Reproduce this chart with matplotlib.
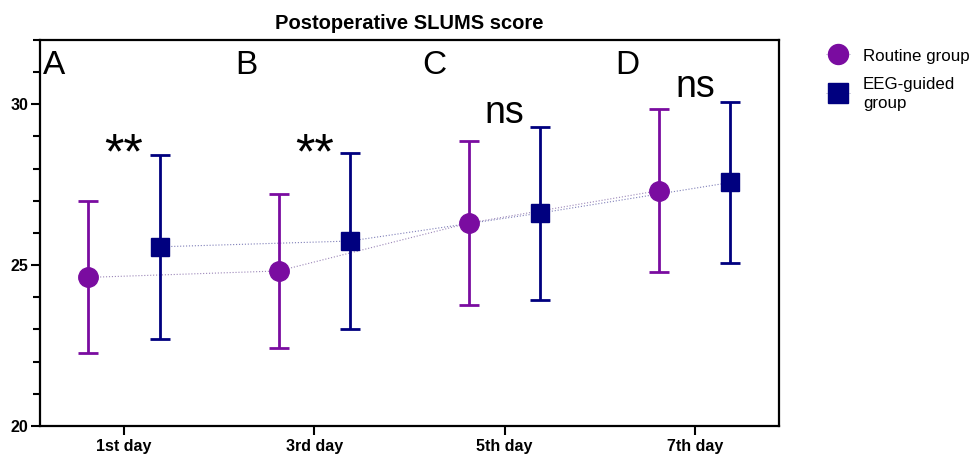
import matplotlib.pyplot as plt
import numpy as np
from matplotlib.lines import Line2D
from matplotlib.ticker import MultipleLocator

plt.rcParams['font.family'] = ['Liberation Sans', 'DejaVu Sans']

# data
days = ['1st day', '3rd day', '5th day', '7th day']
routine_mean = [24.62, 24.82, 26.31, 27.32]
routine_sd = [2.36, 2.40, 2.56, 2.52]
eeg_mean = [25.57, 25.75, 26.62, 27.57]
eeg_sd = [2.85, 2.74, 2.69, 2.51]
panel_letters = ['A', 'B', 'C', 'D']
signif = ['**', '**', 'ns', 'ns']

purple = '#7A0CA0'
navy = '#00007F'

day_pos = np.arange(len(days))
off = 0.187

fig = plt.figure(figsize=(9.72, 4.55), dpi=100)
ax = fig.add_axes([0.04115, 0.06374, 0.76029, 0.84835])

xr = day_pos - off
xe = day_pos + off

# thin dotted connectors
ax.plot(xr, routine_mean, ls=':', lw=0.8, color='#9b86b8', zorder=1)
ax.plot(xe, eeg_mean, ls=':', lw=0.8, color='#7f7fb8', zorder=1)

ax.errorbar(xr, routine_mean, yerr=routine_sd, fmt='o', color=purple,
            ms=14, elinewidth=2.0, capsize=7, capthick=2.0, zorder=3)
ax.errorbar(xe, eeg_mean, yerr=eeg_sd, fmt='s', color=navy,
            ms=13.5, elinewidth=2.0, capsize=7, capthick=2.0, zorder=3)

# panel letters
letter_x = [-0.426, 0.583, 1.569, 2.580]
for lx, t in zip(letter_x, panel_letters):
    ax.text(lx, 30.93, t, fontsize=24, ha='left', va='baseline')

# significance marks
sig_y = [28.01, 28.01, 29.41, 30.22]
sig_fs = [36, 36, 27, 27]
for p, s, sy, fs in zip(day_pos, signif, sig_y, sig_fs):
    ax.text(p, sy, s, fontsize=fs, ha='center', va='baseline')

ax.set_xlim(-0.441, 3.442)
ax.set_ylim(20, 32)
ax.set_xticks(day_pos)
ax.set_xticklabels(days, fontweight='bold', fontsize=11.5)
ax.set_yticks([20, 25, 30])
ax.set_yticklabels(['20', '25', '30'], fontweight='bold', fontsize=11.5)
ax.yaxis.set_minor_locator(MultipleLocator(1))
ax.tick_params(axis='both', which='major', length=6.3, width=1.5, pad=2)
ax.tick_params(axis='x', which='major', pad=3)
ax.tick_params(axis='y', which='minor', length=5, width=1.5)
for sp in ax.spines.values():
    sp.set_linewidth(1.6)

ax.set_title('Postoperative SLUMS score', fontweight='bold', fontsize=14.5, pad=8)

# legend drawn beside the axes
leg_x = 838 / 972
for yy, mk, c, ms in [(1 - 54 / 455, 'o', purple, 14.4), (1 - 93 / 455, 's', navy, 13.9)]:
    fig.add_artist(Line2D([leg_x - 0.012, leg_x + 0.012], [yy, yy], lw=0.6,
                          color='#c8c8d8', transform=fig.transFigure))
    fig.add_artist(Line2D([leg_x], [yy], marker=mk, ms=ms, color=c, lw=0,
                          transform=fig.transFigure))
fig.text(863 / 972, 1 - 61 / 455, 'Routine group', fontsize=12.2, va='baseline')
fig.text(863 / 972, 1 - 89 / 455, 'EEG-guided', fontsize=12.2, va='baseline')
fig.text(863 / 972, 1 - 108 / 455, 'group', fontsize=12.2, va='baseline')

fig.savefig('out.png', dpi=100)
